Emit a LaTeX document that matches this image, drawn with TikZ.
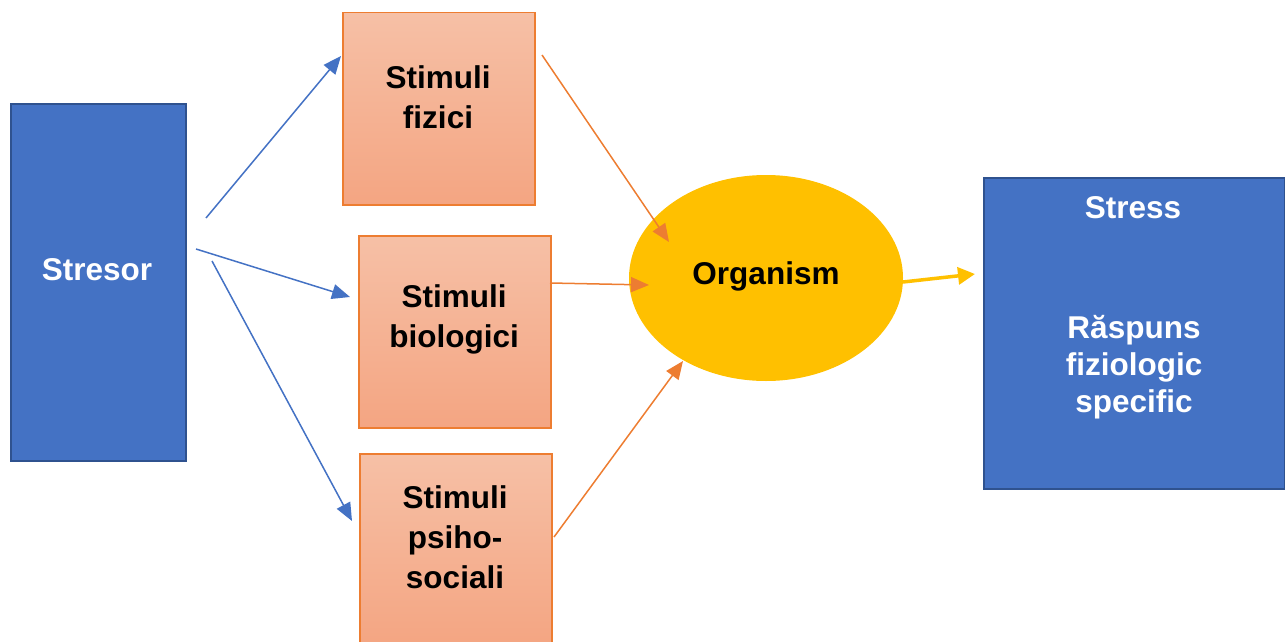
\documentclass[tikz,border=0pt]{standalone}
\usepackage{fontspec}
\setmainfont{Liberation Sans}
\usetikzlibrary{arrows.meta,shapes.geometric,calc}
\definecolor{bluefill}{HTML}{4472C4}
\definecolor{blueline}{HTML}{2F528F}
\definecolor{orline}{HTML}{ED7D31}
\definecolor{ortop}{HTML}{F6C0A6}
\definecolor{orbot}{HTML}{F4A582}
\definecolor{gold}{HTML}{FFC000}
\tikzset{
  bluebox/.style={draw=blueline,line width=2.2pt,fill=bluefill,rectangle,anchor=north west,inner sep=0pt},
  stimbox/.style={draw=orline,line width=1.5pt,top color=ortop,bottom color=orbot,rectangle,anchor=north west,inner sep=0pt,minimum width=192pt,minimum height=192pt},
  txt/.style={font=\bfseries\fontsize{31.5}{40}\selectfont,align=center,inner sep=0pt},
  wtxt/.style={txt,text=white},
  bluearr/.style={draw=bluefill,line width=1.5pt,-{Triangle[length=18pt,width=15pt]}},
  orarr/.style={draw=orline,line width=1.5pt,-{Triangle[length=18pt,width=15pt]}},
  goldarr/.style={draw=gold,line width=3.5pt,-{Triangle[length=17pt,width=17pt]}}
}
\begin{document}
\begin{tikzpicture}[x=1pt,y=-1pt]
\useasboundingbox (0,0) rectangle (1285,642);
\node[bluebox,minimum width=175pt,minimum height=357pt] (stresor) at (10,103) {};
\node[wtxt] (tstresor) at (97,270) {Stresor};
\node[stimbox] (fiz) at (342,12) {};
\node[txt] (tfiz) at (438,97.5) {Stimuli\\fizici};
\node[stimbox] (bio) at (358,235) {};
\node[txt] (tbio) at (454,319) {Stimuli\\biologici};
\node[stimbox] (psi) at (359,453) {};
\node[txt] (tpsi) at (455,537) {Stimuli\\psiho-\\sociali};
\node[ellipse,fill=gold,minimum width=274pt,minimum height=206pt,inner sep=0pt] (org) at (766,278) {};
\node[txt] (torg) at (766,276) {Organism};
\node[bluebox,minimum width=301pt,minimum height=311pt] (stress) at (983,177) {};
\node[wtxt] (tstress) at (1133,208) {Stress};
\node[wtxt,font=\bfseries\fontsize{31.5}{37}\selectfont] (tresp) at (1134,367) {Răspuns\\fiziologic\\specific};
% connector end points
\coordinate (a1s) at (206,218); \coordinate (a1e) at (341,56);
\coordinate (a2s) at (196,249); \coordinate (a2e) at (350,297);
\coordinate (a3s) at (212,261); \coordinate (a3e) at (352,521);
\coordinate (b1s) at (542,55);  \coordinate (b1e) at (669,242);
\coordinate (b2s) at (550,283); \coordinate (b2e) at (649,285);
\coordinate (b3s) at (554,537); \coordinate (b3e) at (683,361);
\coordinate (cs) at (903,282);  \coordinate (ce) at (975,274);
\draw[bluearr] (a1s) -- (a1e);
\draw[bluearr] (a2s) -- (a2e);
\draw[bluearr] (a3s) -- (a3e);
\draw[orarr] (b1s) -- (b1e);
\draw[orarr] (b2s) -- (b2e);
\draw[orarr] (b3s) -- (b3e);
\draw[goldarr] (cs) -- (ce);
\end{tikzpicture}
\end{document}
